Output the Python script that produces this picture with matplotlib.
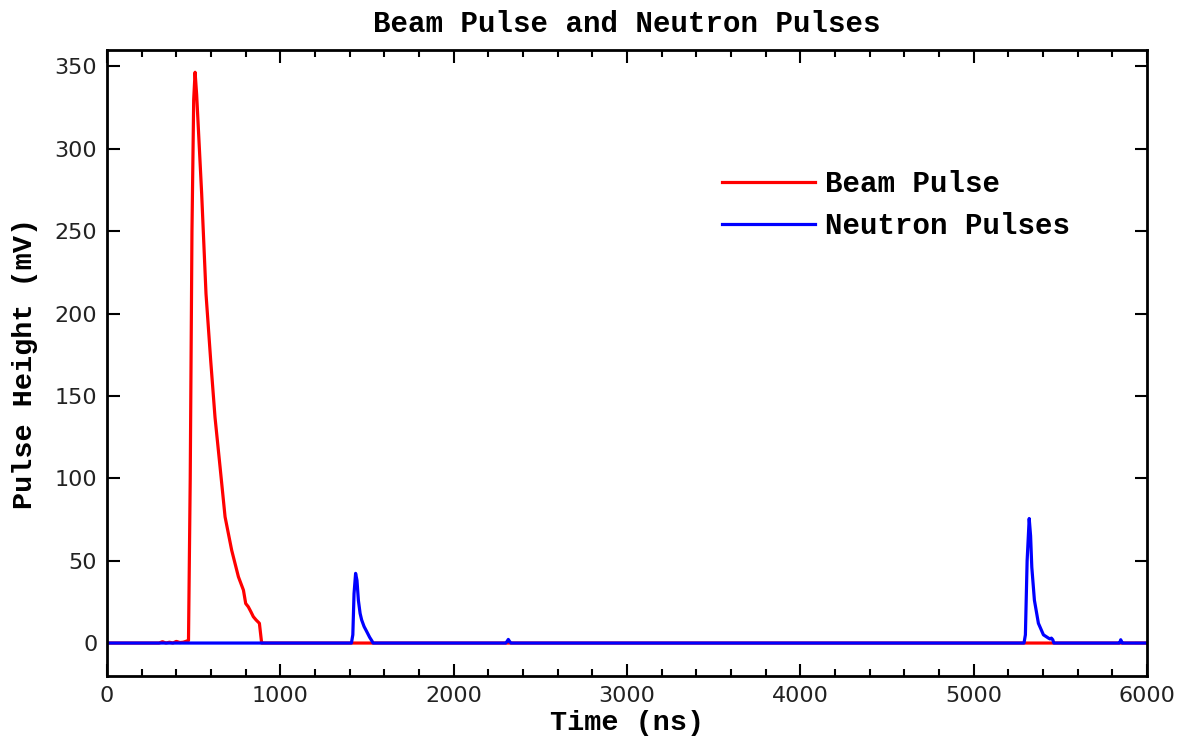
import matplotlib.pyplot as plt
from matplotlib.ticker import MultipleLocator

plt.rcParams['font.family'] = ['Liberation Mono', 'DejaVu Sans Mono']

# beam pulse (ns, mV)
beam_t = [0, 300, 320, 340, 360, 380, 400, 420, 440, 460, 470, 480, 490, 500, 508,
          517, 546, 571, 598, 623, 652, 681, 719, 758, 787, 800, 815, 830, 844, 860,
          879, 892, 900, 6000]
beam_v = [0, 0, 0.8, 0, 0.5, 0, 1.0, 0.3, 0.5, 1.2, 1.5, 100, 250, 330, 346.5,
          333, 272.7, 212, 171.6, 137, 107, 76.6, 56.4, 40.2, 32.1, 24, 22, 19, 16, 14,
          12, 0, 0, 0]

# neutron pulses (ns, mV)
neut_t = [0, 1410, 1418, 1425, 1434, 1442, 1450, 1460, 1469, 1483, 1498, 1515, 1527,
          1535, 2300, 2308, 2315, 2322, 2330, 5290, 5298, 5308, 5320, 5328, 5335,
          5350, 5373, 5402, 5431, 5440, 5448, 5456, 5462, 5840, 5845, 5848, 5852, 5856,
          6000]
neut_v = [0, 0, 5, 30, 42.3, 38, 26, 18, 14, 10, 7, 3.5, 1.5,
          0, 0, 1, 2.2, 1, 0, 0, 5, 50, 75.6, 65, 46,
          26, 12, 5, 3, 2.5, 3, 2, 0, 0, 1, 2, 1, 0,
          0]

fig = plt.figure(figsize=(11.8, 7.4), dpi=100)
ax = fig.add_axes([0.0907, 0.0865, 0.8814, 0.8459])

ax.plot(beam_t, beam_v, color='#ff0000', lw=2.3, label='Beam Pulse')
ax.plot(neut_t, neut_v, color='#0000ff', lw=2.3, label='Neutron Pulses')

ax.set_xlim(0, 6000)
ax.set_ylim(-20, 360)
ax.xaxis.set_major_locator(MultipleLocator(1000))
ax.xaxis.set_minor_locator(MultipleLocator(200))
ax.yaxis.set_major_locator(MultipleLocator(50))
ax.tick_params(which='both', direction='in', top=True, right=True, width=1.5, pad=7)
ax.tick_params(which='major', length=9)
ax.tick_params(which='minor', length=5)
for lab in ax.get_xticklabels() + ax.get_yticklabels():
    lab.set_fontfamily('DejaVu Sans')
    lab.set_fontsize(16)
    lab.set_color('#222222')
for s in ax.spines.values():
    s.set_linewidth(2)

ax.set_title('Beam Pulse and Neutron Pulses', fontsize=21, fontweight='bold', pad=13)
ax.set_xlabel('Time (ns)', fontsize=20.5, fontweight='bold', labelpad=3)
ax.set_ylabel('Pulse Height (mV)', fontsize=20.5, fontweight='bold', labelpad=12)

ax.legend(loc='upper left', bbox_to_anchor=(0.591, 0.808), frameon=False, borderpad=0,
          borderaxespad=0, prop={'size': 21, 'weight': 'bold'}, handlelength=3.2,
          handletextpad=0.34, labelspacing=0.47)

fig.savefig('out.png')
